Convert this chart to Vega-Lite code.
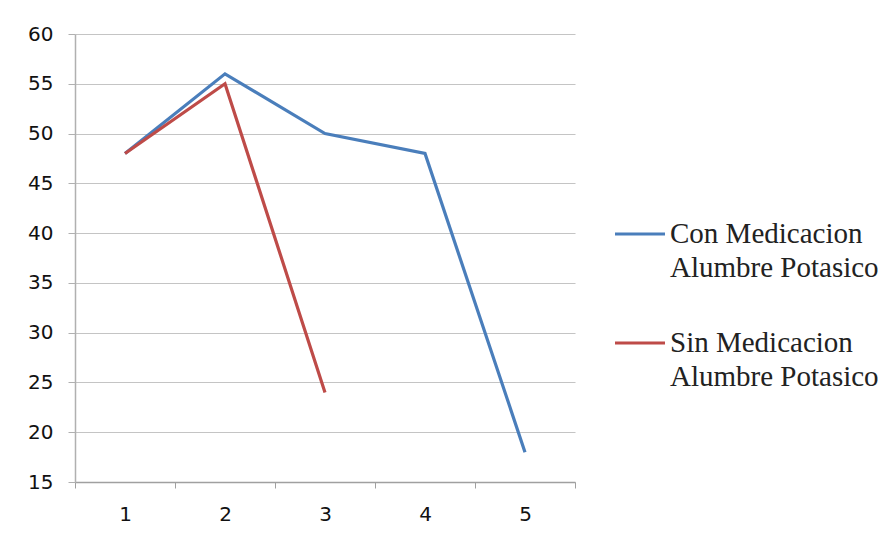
{
  "$schema": "https://vega.github.io/schema/vega-lite/v6.json",
  "width": 500,
  "height": 448,
  "autosize": {"type": "none"},
  "padding": {"left": 75, "top": 34, "right": 319, "bottom": 57},
  "background": "white",
  "data": {
    "values": [
      {"x": "1", "y": 48, "serie": "Con Medicacion Alumbre Potasico"},
      {"x": "2", "y": 56, "serie": "Con Medicacion Alumbre Potasico"},
      {"x": "3", "y": 50, "serie": "Con Medicacion Alumbre Potasico"},
      {"x": "4", "y": 48, "serie": "Con Medicacion Alumbre Potasico"},
      {"x": "5", "y": 18, "serie": "Con Medicacion Alumbre Potasico"},
      {"x": "1", "y": 48, "serie": "Sin Medicacion Alumbre Potasico"},
      {"x": "2", "y": 55, "serie": "Sin Medicacion Alumbre Potasico"},
      {"x": "3", "y": 24, "serie": "Sin Medicacion Alumbre Potasico"}
    ]
  },
  "mark": {"type": "line", "strokeWidth": 3.2},
  "encoding": {
    "x": {
      "field": "x",
      "type": "ordinal",
      "bandPosition": 0.5,
      "scale": {"type": "band", "domain": ["1", "2", "3", "4", "5"], "paddingInner": 0, "paddingOuter": 0},
      "axis": {
        "title": null,
        "labelAngle": 0,
        "tickBand": "extent",
        "tickSize": 6,
        "tickColor": "#a0a0a0",
        "domainColor": "#a0a0a0",
        "domainWidth": 1.5,
        "labelFont": "DejaVu Sans",
        "labelFontSize": 20,
        "labelColor": "#111",
        "labelPadding": 16,
        "grid": false
      }
    },
    "y": {
      "field": "y",
      "type": "quantitative",
      "scale": {"domain": [15, 60], "nice": false, "zero": false},
      "axis": {
        "title": null,
        "values": [15, 20, 25, 30, 35, 40, 45, 50, 55, 60],
        "tickSize": 7,
        "tickColor": "#b0b0b0",
        "domainColor": "#b0b0b0",
        "domainWidth": 1.5,
        "gridColor": "#c4c4c4",
        "gridWidth": 1.2,
        "labelFont": "DejaVu Sans",
        "labelFontSize": 20,
        "labelColor": "#111",
        "labelPadding": 15
      }
    },
    "color": {
      "field": "serie",
      "type": "nominal",
      "scale": {
        "domain": ["Con Medicacion Alumbre Potasico", "Sin Medicacion Alumbre Potasico"],
        "range": ["#4a7ebb", "#be4b48"]
      },
      "legend": {
        "title": null,
        "orient": "none",
        "legendX": 538,
        "legendY": 173,
        "symbolType": "stroke",
        "symbolSize": 2500,
        "symbolStrokeWidth": 3.2,
        "labelFont": "Liberation Serif",
        "labelFontSize": 29,
        "labelColor": "#222",
        "labelLimit": 0,
        "labelOffset": 3,
        "rowPadding": 33,
        "labelExpr": "[join(slice(split(datum.label,' '),0,2),' '), join(slice(split(datum.label,' '),2),' ')]"
      }
    }
  },
  "config": {
    "view": {"stroke": null},
    "style": {"guide-label": {"lineHeight": 34}}
  }
}
